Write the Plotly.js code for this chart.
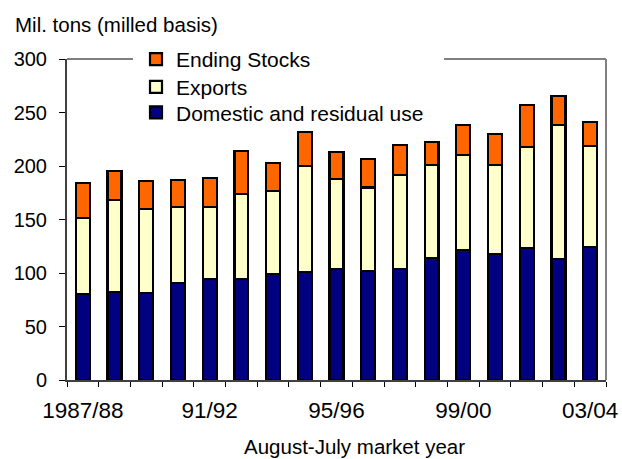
<!DOCTYPE html>
<html>
<head>
<meta charset="utf-8">
<script src="https://cdn.plot.ly/plotly-3.0.1.min.js"></script>
<style>html,body{margin:0;padding:0;background:#fff;}#chart{width:622px;height:459px;}</style>
</head>
<body>
<div id="chart"></div>
<script>
var years = ['1987/88','88/89','89/90','90/91','91/92','92/93','93/94','94/95','95/96','96/97','97/98','98/99','99/00','00/01','01/02','02/03','03/04'];
var tickLabels = ['1987/88','','','','91/92','','','','95/96','','','','99/00','','','','03/04'];
var domestic = [80.4, 82, 81.6, 90.6, 94.7, 94.1, 99.4, 100.6, 104, 101.9, 103.4, 113.7, 121.8, 117.8, 123.4, 113.4, 124];
var exportsV = [71.3, 86, 77.9, 71.4, 66.7, 79.4, 77.2, 99.4, 83.5, 78.1, 87.9, 86.9, 88.8, 82.8, 94.6, 124.6, 95];
var stocks = [32.3, 27, 26.2, 25, 27.4, 40.2, 25.9, 31.5, 25.5, 26.8, 28.7, 22.1, 28, 29, 39, 27.4, 22];
var seriesNames = ['Domestic and residual use', 'Exports', 'Ending Stocks'];
var yTitle = 'Mil. tons (milled basis)';
var xTitle = 'August-July market year';

var FONT = '"Liberation Sans", Arial, sans-serif';
var colors = ['#000080', '#FFFFCC', '#FF6600'];
var legendIds = ['legend3', 'legend2', 'legend'];
var vals = [domestic, exportsV, stocks];
var traces = vals.map(function(v, i) {
  return {
    type: 'bar', x: years, y: v, name: seriesNames[i],
    legend: legendIds[i],
    marker: {color: colors[i], line: {color: '#000000', width: 2.2}},
    hoverinfo: 'skip'
  };
});

var L = 67, R = 606, T = 59, B = 380, W = 622, H = 459;
function px(xp) { return (xp - L) / (R - L); }
function py(yp) { return (B - yp) / (B - T); }
function legendAt(centerY) {
  return {
    x: px(136), y: py(centerY - 20), xanchor: 'left', yanchor: 'top',
    bgcolor: 'rgba(0,0,0,0)', borderwidth: 0,
    font: {family: FONT, size: 21, color: '#000000'},
    itemclick: false, itemdoubleclick: false
  };
}

var layout = {
  width: W, height: H,
  margin: {l: L, r: W - R, t: T, b: H - B, pad: 0},
  paper_bgcolor: '#ffffff', plot_bgcolor: '#ffffff',
  barmode: 'stack', bargap: 0.56,
  font: {family: FONT, color: '#000000', size: 20},
  showlegend: true,
  legend: legendAt(59),
  legend2: legendAt(86.7),
  legend3: legendAt(112.3),
  xaxis: {
    type: 'category',
    tickvals: years, ticktext: tickLabels, tickangle: 0,
    tickson: 'boundaries', ticks: 'outside', ticklen: 5, tickwidth: 1, tickcolor: '#000000',
    showline: true, linecolor: '#404040', linewidth: 2,
    showgrid: false, zeroline: false,
    tickfont: {family: FONT, size: 22.5, color: '#000000'},
    ticklabelstandoff: 9,
    range: [-0.5, 16.5], fixedrange: true
  },
  yaxis: {
    range: [0, 300], dtick: 50, tick0: 0,
    ticks: 'outside', ticklen: 6, tickwidth: 1, tickcolor: '#000000',
    showline: true, linecolor: '#404040', linewidth: 2,
    showgrid: false, zeroline: false,
    tickfont: {family: FONT, size: 20, color: '#000000'},
    ticklabelstandoff: 8,
    fixedrange: true
  },
  shapes: [
    {type: 'line', xref: 'paper', yref: 'paper', x0: 0, x1: px(133), y0: 1, y1: 1, line: {color: '#808080', width: 2}},
    {type: 'line', xref: 'paper', yref: 'paper', x0: px(444), x1: 1, y0: 1, y1: 1, line: {color: '#808080', width: 2}},
    {type: 'line', xref: 'paper', yref: 'paper', x0: 1, x1: 1, y0: 0, y1: 1, line: {color: '#808080', width: 2}}
  ],
  annotations: [
    {text: yTitle, xref: 'paper', yref: 'paper', x: px(13), y: py(25), xanchor: 'left', yanchor: 'middle', showarrow: false, font: {family: FONT, size: 20.5, color: '#000000'}},
    {text: xTitle, xref: 'paper', yref: 'paper', x: px(354), y: py(446), xanchor: 'center', yanchor: 'middle', showarrow: false, font: {family: FONT, size: 20.5, color: '#000000'}}
  ]
};

Plotly.newPlot('chart', traces, layout, {displayModeBar: false, staticPlot: true});
</script>
</body>
</html>
